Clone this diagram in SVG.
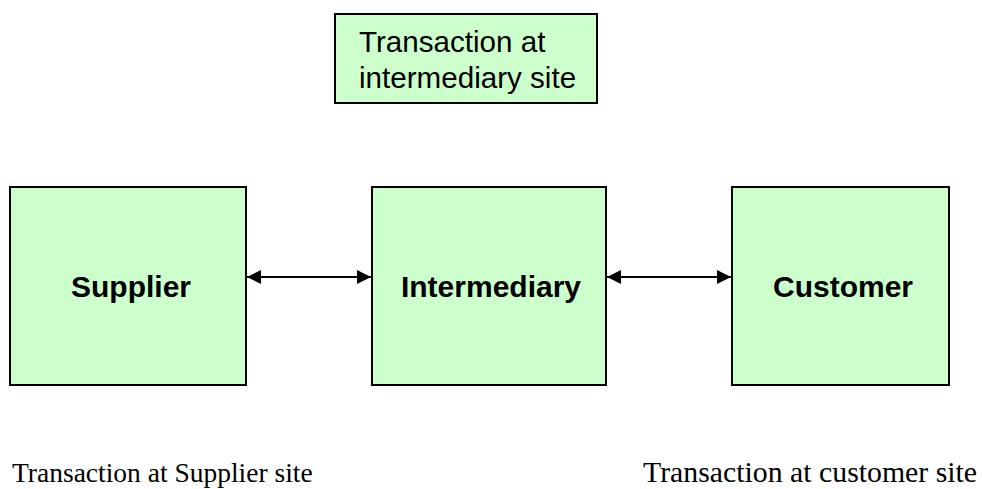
<svg xmlns="http://www.w3.org/2000/svg" width="982" height="489" viewBox="0 0 982 489">
  <style>
    .box { fill: #CCFFCC; stroke: #000; stroke-width: 2; }
    .lbl { font-family: "Liberation Sans", Arial, sans-serif; font-weight: bold; font-size: 30px; fill: #000; text-anchor: middle; }
    .note { font-family: "Liberation Sans", Arial, sans-serif; font-size: 29.6px; fill: #000; }
    .cap { font-family: "Liberation Serif", "Times New Roman", serif; fill: #000; }
    .link { stroke: #000; stroke-width: 2; fill: none; marker-start: url(#head); marker-end: url(#head); }
  </style>
  <defs>
    <marker id="head" viewBox="0 0 14 14" refX="14" refY="7" markerWidth="14" markerHeight="14" markerUnits="userSpaceOnUse" orient="auto-start-reverse">
      <path d="M0,0 L14,7 L0,14 Z" fill="#000"/>
    </marker>
  </defs>

  <g id="intermediary-site-note">
    <rect class="box" x="335" y="14" width="262" height="89"/>
    <text class="note" x="359" y="52">Transaction at</text>
    <text class="note" x="359" y="88">intermediary site</text>
  </g>

  <g id="supplier">
    <rect class="box" x="10" y="187" width="236" height="198"/>
    <text class="lbl" x="131" y="297">Supplier</text>
  </g>

  <g id="intermediary">
    <rect class="box" x="372" y="187" width="234" height="198"/>
    <text class="lbl" x="491" y="297">Intermediary</text>
  </g>

  <g id="customer">
    <rect class="box" x="732" y="187" width="217" height="198"/>
    <text class="lbl" x="843" y="297">Customer</text>
  </g>

  <g id="connectors">
    <line class="link" x1="247" y1="277" x2="371" y2="277"/>
    <line class="link" x1="607" y1="277" x2="731" y2="277"/>
  </g>

  <g id="captions">
    <text class="cap" x="12" y="482" font-size="27.5">Transaction at Supplier site</text>
    <text class="cap" x="643" y="482" font-size="29.8">Transaction at customer site</text>
  </g>
</svg>
